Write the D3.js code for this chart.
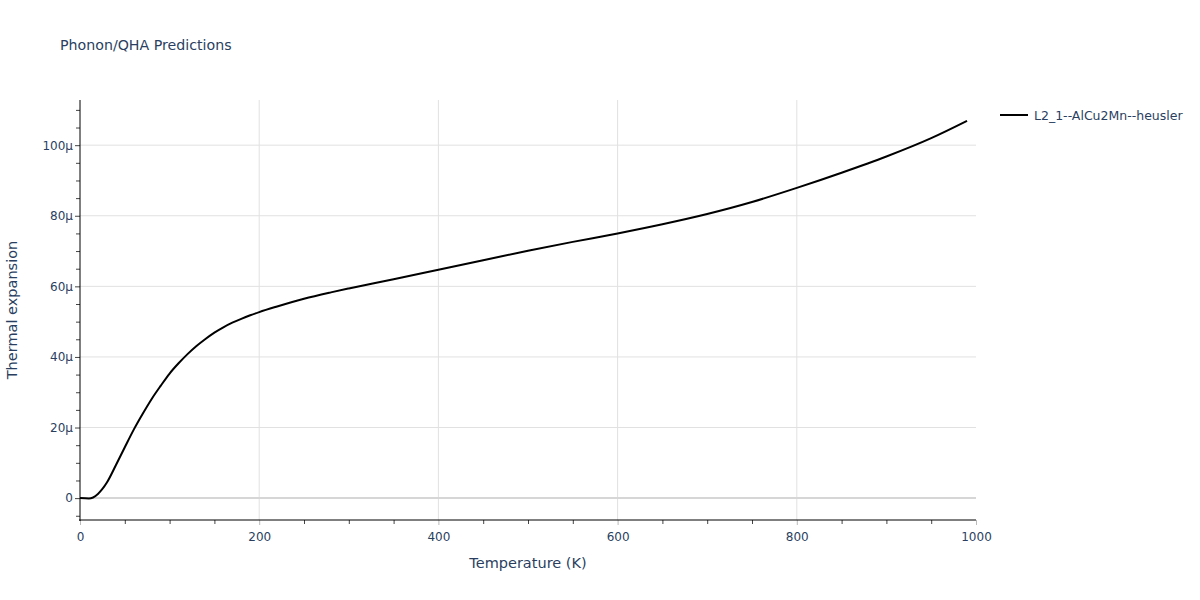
<!DOCTYPE html>
<html>
<head>
<meta charset="utf-8">
<script src="https://cdn.jsdelivr.net/npm/d3@7"></script>
<style>
  body { margin: 0; background: #fff; }
  text { font-family: "DejaVu Sans", Verdana, sans-serif; }
</style>
</head>
<body>
<svg id="chart" width="1200" height="600"></svg>
<script>
const temperature = [0,10,20,30,40,50,60,70,80,90,100,110,120,130,140,150,160,170,180,190,200,220,250,280,300,350,400,450,500,550,600,650,700,750,800,850,900,950,990];
const expansionMicro = [0,-0.1,1.2,4.4,9.3,14.4,19.4,23.9,28.1,31.8,35.3,38.2,40.8,43.1,45.1,46.9,48.4,49.7,50.8,51.8,52.7,54.3,56.5,58.3,59.4,62.0,64.7,67.4,70.1,72.6,75.0,77.6,80.5,83.9,87.9,92.2,96.8,102.0,106.9];
const seriesName = "L2_1--AlCu2Mn--heusler";
const xMajorTicks = [0,200,400,600,800,1000];
const yMajorTicksMicro = [0,20,40,60,80,100];

const data = temperature.map((t,i)=>({t, v: expansionMicro[i]*1e-6}));

const svg = d3.select("#chart");
const m = {left:80, right:976, top:100, bottom:520};
const x = d3.scaleLinear().domain([0,1000]).range([m.left, m.right]);
const y = d3.scaleLinear().domain([-6.2e-6, 112.8e-6]).range([m.bottom, m.top]);

const textColor = "#2a3f5f";
const gridColor = "#e1e1e1";

// gridlines
svg.append("g").selectAll("line").data(xMajorTicks.filter(d=>d>0 && d<1000)).join("line")
  .attr("x1", d=>x(d)).attr("x2", d=>x(d)).attr("y1", m.top).attr("y2", m.bottom)
  .attr("stroke", gridColor).attr("stroke-width", 1);
svg.append("g").selectAll("line").data(yMajorTicksMicro.filter(d=>d!==0)).join("line")
  .attr("x1", m.left).attr("x2", m.right).attr("y1", d=>y(d*1e-6)).attr("y2", d=>y(d*1e-6))
  .attr("stroke", gridColor).attr("stroke-width", 1);
// zero line
svg.append("line").attr("x1", m.left).attr("x2", m.right).attr("y1", y(0)).attr("y2", y(0))
  .attr("stroke", "#d6d6d6").attr("stroke-width", 2);

// x axis
const xMinor = d3.range(0, 1001, 50).filter(d=>d%200!==0);
const gx = svg.append("g").attr("transform", `translate(0,${m.bottom})`);
gx.call(d3.axisBottom(x).tickValues(xMinor).tickSize(4).tickFormat(""))
  .call(g=>g.select(".domain").remove())
  .call(g=>g.selectAll(".tick line").attr("stroke","#444"));
const gx2 = svg.append("g").attr("transform", `translate(0,${m.bottom})`);
gx2.call(d3.axisBottom(x).tickValues(xMajorTicks).tickSize(5).tickPadding(7).tickFormat(d3.format("d")))
  .call(g=>g.select(".domain").remove())
  .call(g=>g.selectAll(".tick line").attr("stroke","#bbb"))
  .call(g=>g.selectAll(".tick text").attr("fill", textColor).attr("font-size", 12));
svg.append("line").attr("x1", m.left-1).attr("x2", m.right).attr("y1", m.bottom).attr("y2", m.bottom)
  .attr("stroke", "#000").attr("stroke-width", 1);

// y axis
const yMinor = d3.range(-5, 111, 5).filter(d=>d%20!==0).map(d=>d*1e-6);
const gy = svg.append("g").attr("transform", `translate(${m.left},0)`);
gy.call(d3.axisLeft(y).tickValues(yMinor).tickSize(4).tickFormat(""))
  .call(g=>g.select(".domain").remove())
  .call(g=>g.selectAll(".tick line").attr("stroke","#444"));
const gy2 = svg.append("g").attr("transform", `translate(${m.left},0)`);
gy2.call(d3.axisLeft(y).tickValues(yMajorTicksMicro.map(d=>d*1e-6)).tickSize(5).tickPadding(2)
    .tickFormat(d=>{ const v=Math.round(d*1e6); return v===0 ? "0" : v+"µ"; }))
  .call(g=>g.select(".domain").remove())
  .call(g=>g.selectAll(".tick line").attr("stroke","#444"))
  .call(g=>g.selectAll(".tick text").attr("fill", textColor).attr("font-size", 12));
svg.append("line").attr("x1", m.left).attr("x2", m.left).attr("y1", m.top).attr("y2", m.bottom+1)
  .attr("stroke", "#000").attr("stroke-width", 1);

// line
const line = d3.line().x(d=>x(d.t)).y(d=>y(d.v)).curve(d3.curveMonotoneX);
svg.append("path").datum(data).attr("d", line)
  .attr("fill","none").attr("stroke","#000").attr("stroke-width",2).attr("stroke-linejoin","round");

// titles
svg.append("text").attr("x", 60).attr("y", 50).attr("fill", textColor).attr("font-size", 14.2)
  .text("Phonon/QHA Predictions");
svg.append("text").attr("x", (m.left+m.right)/2).attr("y", 568).attr("text-anchor","middle")
  .attr("fill", textColor).attr("font-size", 14.5).text("Temperature (K)");
svg.append("text").attr("transform", `translate(17,${(m.top+m.bottom)/2}) rotate(-90)`)
  .attr("text-anchor","middle").attr("fill", textColor).attr("font-size", 14.5).text("Thermal expansion");

// legend
const lg = svg.append("g").attr("transform","translate(1000,115)");
lg.append("line").attr("x1",0).attr("x2",28).attr("y1",0).attr("y2",0).attr("stroke","#000").attr("stroke-width",2);
lg.append("text").attr("x",34).attr("y",4.5).attr("fill",textColor).attr("font-size",12.5).text(seriesName);
</script>
</body>
</html>
